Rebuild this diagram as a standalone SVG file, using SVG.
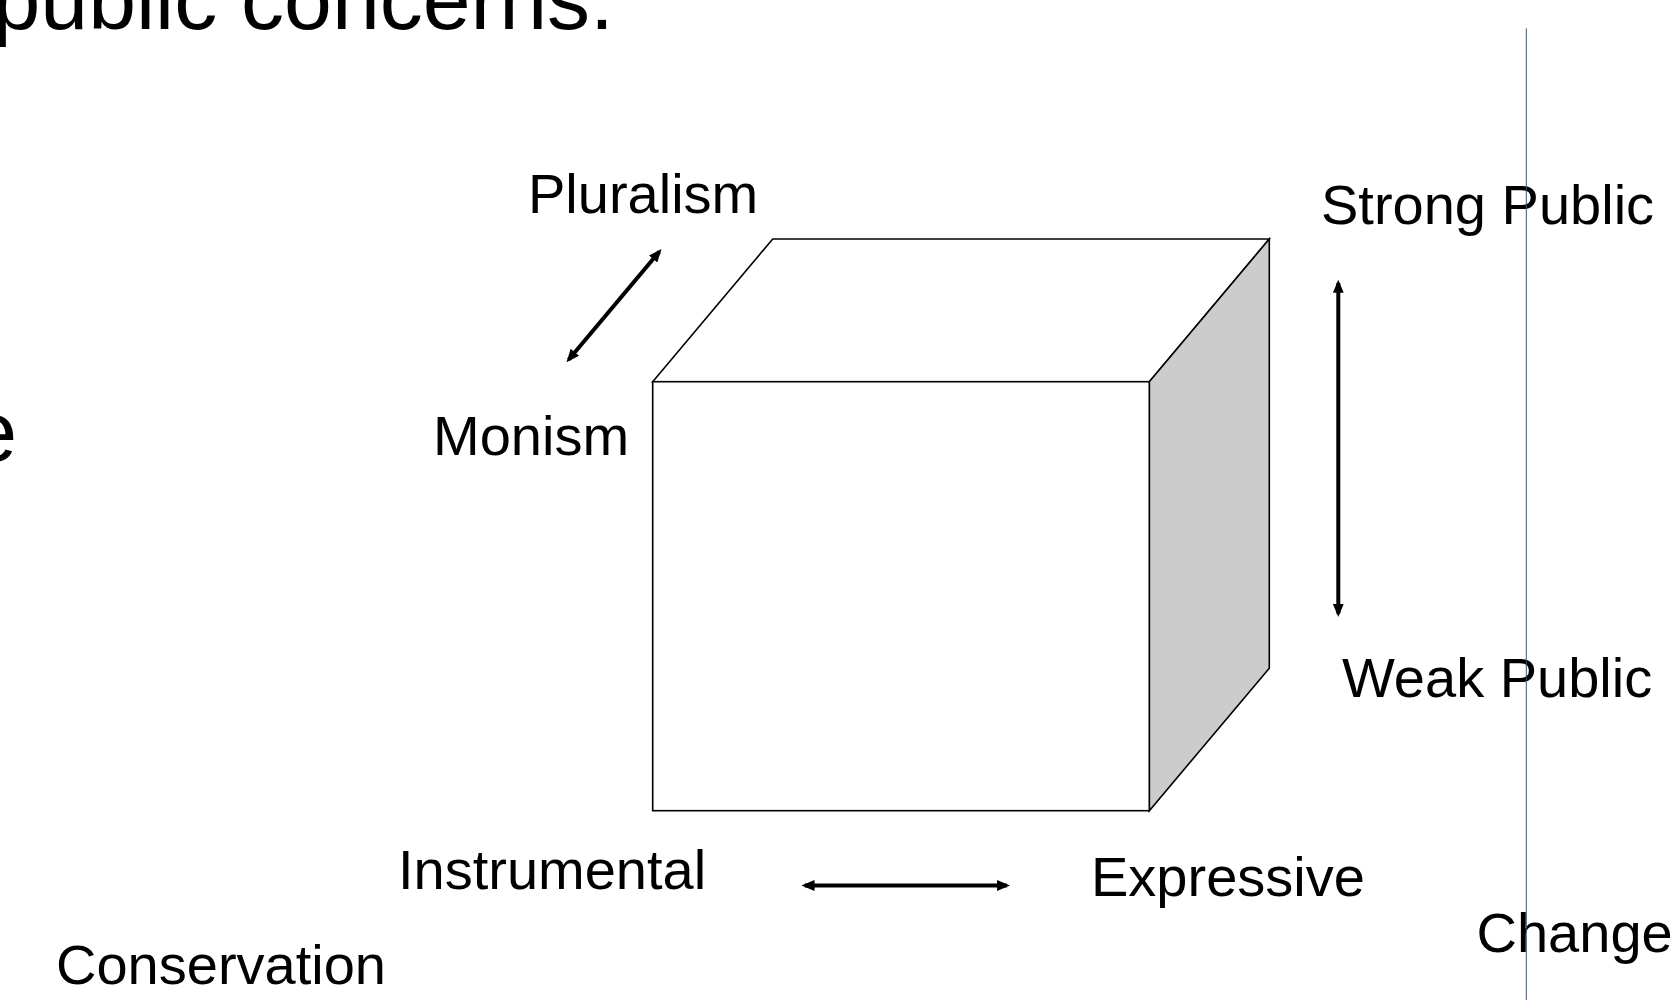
<svg xmlns="http://www.w3.org/2000/svg" width="1673" height="1000" viewBox="0 0 1673 1000">
<style>
.lbl{font-family:"Liberation Sans",Arial,sans-serif;font-size:56px;fill:#000}
.big{font-family:"Liberation Sans",Arial,sans-serif;font-size:86px;fill:#000}
.edge{stroke:#000;stroke-width:1.6;stroke-linejoin:miter}
.arr{stroke:#000;stroke-width:4;fill:none;marker-start:url(#ah);marker-end:url(#ah)}
</style>
<defs>
<marker id="ah" viewBox="0 0 12 10" markerWidth="13" markerHeight="11" refX="9" refY="5" orient="auto-start-reverse" markerUnits="userSpaceOnUse">
<path d="M0,0 L12,5 L0,10 z" fill="#000"/>
</marker>
</defs>
<rect width="1673" height="1000" fill="#fff"/>
<text class="big" x="-7.5" y="28.5">public concerns.</text>
<text class="big" x="17" y="461" text-anchor="end">e</text>
<g id="cube">
<polygon class="edge" points="652.7,381.7 772.7,239 1269.3,239 1149.3,381.7" fill="#fff"/>
<polygon class="edge" points="1149.3,381.7 1269.3,239 1269.3,668.3 1149.3,810.7" fill="#cccccc"/>
<rect class="edge" x="652.7" y="381.7" width="496.6" height="429" fill="#fff"/>
</g>
<g id="pluralism"><text class="lbl" x="528" y="213">Pluralism</text></g>
<g id="monism"><text class="lbl" x="433" y="455">Monism</text></g>
<g id="strong-public"><text class="lbl" x="1321" y="224">Strong Public</text></g>
<g id="weak-public"><text class="lbl" x="1342" y="697">Weak Public</text></g>
<g id="instrumental"><text class="lbl" x="398" y="889">Instrumental</text></g>
<g id="expressive"><text class="lbl" x="1091" y="896">Expressive</text></g>
<g id="conservation"><text class="lbl" x="56" y="984">Conservation</text></g>
<g id="change"><text class="lbl" x="1476.5" y="952">Change</text></g>
<g id="connectors">
<line class="arr" x1="568.6" y1="359.7" x2="659.4" y2="251.6"/>
<line class="arr" x1="1338.3" y1="283" x2="1338.3" y2="613.7"/>
<line class="arr" x1="804.8" y1="885.5" x2="1006.8" y2="885.5"/>
</g>
<line x1="1526.3" y1="28.3" x2="1526.3" y2="1000" stroke="#3b5274" stroke-width="1"/>
</svg>
